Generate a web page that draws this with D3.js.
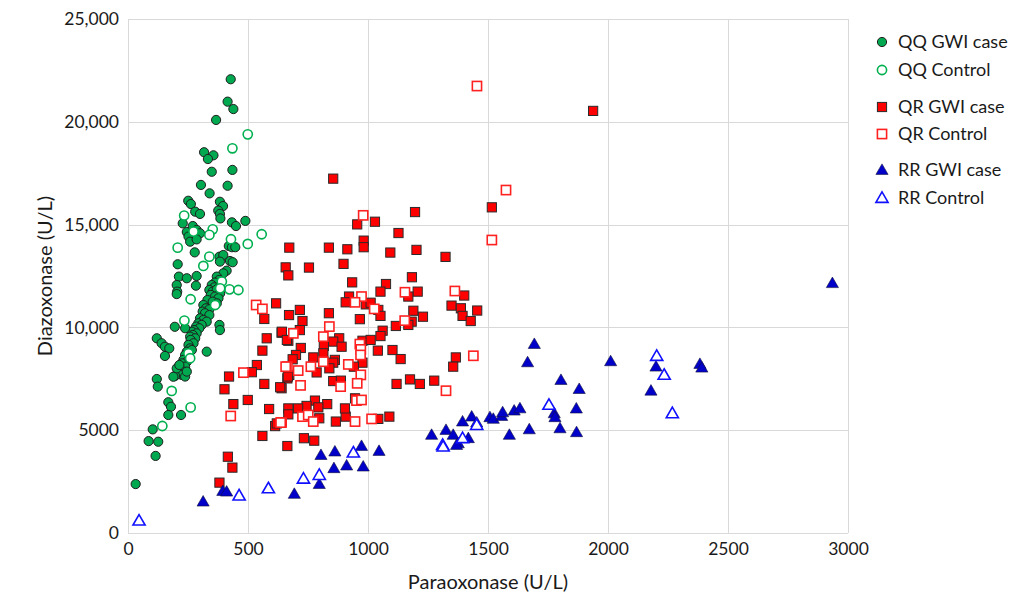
<!DOCTYPE html>
<html>
<head>
<meta charset="utf-8">
<script src="https://cdn.jsdelivr.net/npm/d3@7"></script>
<style>
body { margin: 0; background: #fff; }
text { font-family: Lato, "Open Sans", sans-serif; fill: #1a1a1a; }
</style>
</head>
<body>
<script>

// values: [paraoxonase, diazoxonase]
var qqCase = [
  [428,22070],[415,20980],[439,20620],[367,20090],[317,18520],[356,18370],[333,18190],[349,17570],[435,17660],
  [304,16930],[415,16890],[340,16520],[251,16160],[262,16000],[383,16110],[396,15900],[280,15630],[300,15520],
  [376,15680],[383,15520],[385,15300],[433,15110],[450,14930],[489,15180],[228,15060],[245,14640],[270,14930],
  [286,14740],[300,14580],[252,14420],[259,14170],[286,14280],
  [420,13960],[433,13900],[447,13900],[278,13650],[207,13070],[381,13440],[397,13520],[383,13200],[425,13230],
  [436,13170],[411,12760],[397,12630],[212,12470],[245,12390],[286,12500],[203,12060],[205,11740],[203,11620],[283,12030],
  [370,12470],[380,12310],[363,12180],[349,12060],[360,11950],[339,11820],[353,11740],[370,11850],[384,11660],
  [345,11580],[363,11500],[377,11420],[331,11330],[353,11250],[370,11170],[314,11090],[325,10930],[339,10880],
  [311,10770],[321,10690],[339,10600],[300,10440],[314,10360],[328,10280],[293,10200],[307,10120],[284,10040],
  [297,9960],[275,9870],[266,9790],[286,9710],[270,9630],[259,9550],[280,9470],[261,9390],[273,9230],[252,9150],
  [259,8980],[245,8820],[266,8900],[238,8660],[252,8580],[231,8420],[245,8330],[224,8250],[238,8090],[217,7930],
  [231,7850],[210,7770],[224,7690],[238,7610],[196,7640],[203,8010],[214,8170],
  [195,10030],[238,9960],[381,10120],[383,9870],[120,9470],[140,9230],[154,9060],[172,8980],[154,8610],[328,8820],
  [120,7490],[124,7120],[168,6360],[179,6140],[189,7600],[245,7850],
  [168,5740],[221,5740],[103,5040],[86,4470],[126,4440],[115,3750],[32,2380]
];
var qqControl = [
  [499,19390],[435,18710],[234,15440],[353,14770],[339,14500],[557,14530],[429,14290],[273,14660],[499,14060],
  [207,13880],[339,13440],[314,12990],[423,11850],[460,11820],[261,11370],[235,10330],[182,6910],[261,6110],
  [363,11090],[252,8740],[259,8500],[391,12230],[384,11900],[143,5205]
];
var qrCase = [
  [855,17235],[1196,15610],[1029,15140],[955,15010],[1127,14590],[982,14220],[982,13900],[672,13880],[837,13880],
  [914,13800],[1093,13640],[1202,13770],[1323,13430],[657,12920],[668,12530],[754,12910],[898,13090],[934,12190],
  [1075,12110],[1183,12440],[1052,11740],[1207,11740],[1168,11500],[921,11500],[907,11220],[991,11120],[1011,11200],
  [1043,10850],[1052,10560],[1189,10810],[1229,10520],[1348,11060],[1387,10930],[1401,11550],[1394,10560],[1428,10310],
  [1455,10820],[716,10850],[671,10600],[727,10310],[837,10690],[966,10400],[1182,10280],[1116,10070],[1168,10120],
  [640,9740],[668,9350],[716,9870],[880,9470],[855,9310],[890,9060],[816,9100],[720,9000],[700,8660],[686,8450],
  [772,8540],[814,8740],[862,8420],[855,8285],[839,8010],[786,7810],[672,7685],[664,7520],[977,9350],[977,8285],
  [941,8090],[1011,9390],[1061,9840],[1052,9580],[1041,8870],[1102,8900],[1136,8460],[1366,8540],[1355,8090],
  [640,7040],[855,7390],[887,7410],[1119,7250],[1175,7470],[1216,7250],[1276,7410],[946,6550],[779,6440],[830,6270],
  [744,6180],[668,6060],[668,5770],[793,6110],[709,6060],[797,5580],[866,5420],[907,5660],[904,6060],[1043,5550],
  [1089,5660],[733,4610],[776,4490],[664,4230],[1516,15840],[1938,20530],
  [439,6270],[499,6470],[416,3710],[435,3180],[381,2450],[560,4720],[588,6030],[613,5200],[620,5330],
  [617,11170],[568,10410],[641,9790],[662,9390],[578,9470],[560,8870],[537,8170],[516,7820],[666,7610],[421,7610],
  [568,7250],[634,7090],[402,6990]
];
var qrControl = [
  [1454,21740],[980,15450],[973,11500],[946,11220],[1026,10900],[1154,11710],[1362,11770],[1153,10330],[839,10040],
  [689,9710],[814,9550],[966,9190],[970,8930],[969,8660],[970,7690],[955,7280],[886,7120],[918,8200],[814,8330],
  [762,8090],[709,7900],[664,8090],[719,7180],[952,6440],[973,6470],[727,5660],[751,5740],[772,5420],[946,5420],
  [1015,5550],[640,5380],[1439,8620],[1325,6920],[1575,16680],[1516,14250],[428,5690],[636,5370],[534,11090],
  [560,10900],[481,7800],[657,8090]
];
var rrCase = [
  [313,1525],[395,2040],[411,2010],[693,1900],[797,2380],[804,3790],[862,3960],[858,3150],[911,3280],[973,4230],
  [980,3230],[1046,3990],[1265,4770],[1325,5010],[1355,4770],[1376,4360],[1369,4280],[1418,4610],[1394,5420],
  [1432,5660],[1453,5370],[1693,9190],[1665,8300],[1804,7440],[1880,7000],[1868,6050],[1776,5820],[1779,5630],
  [1800,5090],[1869,4900],[1672,5040],[1589,4770],[1508,5630],[1522,5550],[1557,5690],[1561,5870],[1609,5950],
  [1633,6060],[2011,8350],[2200,8090],[2179,6920],[2383,8220],[2391,8040],[2935,12150]
];
var rrControl = [
  [46,600],[463,1820],[585,2170],[731,2640],[797,2820],[939,3910],[1311,4280],[1313,4200],[1394,4610],[1453,5250],
  [1754,6230],[2203,8610],[2234,7690],[2268,5820]
];

var xTicks = [0, 500, 1000, 1500, 2000, 2500, 3000];
var yTicks = [0, 5000, 10000, 15000, 20000, 25000];

var margin = {top: 19, right: 161, bottom: 63, left: 128};
var width = 1009 - margin.left - margin.right;
var height = 596 - margin.top - margin.bottom;

var svg = d3.select("body").append("svg")
    .attr("width", 1009)
    .attr("height", 596);

var g = svg.append("g")
    .attr("transform", "translate(" + margin.left + "," + margin.top + ")");

var x = d3.scaleLinear().domain([0, 3000]).range([0, width]);
var y = d3.scaleLinear().domain([0, 25000]).range([height, 0]);

// grid
g.append("g").selectAll("line").data(xTicks).enter().append("line")
    .attr("x1", d => Math.round(x(d)) + 0.5).attr("x2", d => Math.round(x(d)) + 0.5)
    .attr("y1", 0).attr("y2", height)
    .attr("stroke", "#d9d9d9");
g.append("g").selectAll("line").data(yTicks).enter().append("line")
    .attr("x1", 0).attr("x2", width)
    .attr("y1", d => Math.round(y(d)) + 0.5).attr("y2", d => Math.round(y(d)) + 0.5)
    .attr("stroke", "#d9d9d9");

var fmtY = d => d >= 10000 ? d3.format(",")(d) : String(d);

var xAxis = g.append("g")
    .attr("transform", "translate(0," + height + ")")
    .call(d3.axisBottom(x).tickValues(xTicks).tickSize(0).tickPadding(10).tickFormat(d3.format("d")));
var yAxis = g.append("g")
    .call(d3.axisLeft(y).tickValues(yTicks).tickSize(0).tickPadding(9).tickFormat(fmtY));
[xAxis, yAxis].forEach(a => {
    a.select(".domain").remove();
    a.selectAll("text").attr("font-size", "17.5px").attr("font-family", "Lato, sans-serif").attr("fill", "#1a1a1a");
});

svg.append("text")
    .attr("transform", "rotate(-90)")
    .attr("x", -276)
    .attr("y", 52)
    .attr("text-anchor", "middle")
    .attr("font-size", "20px")
    .text("Diazoxonase (U/L)");

svg.append("text")
    .attr("x", 488)
    .attr("y", 589)
    .attr("text-anchor", "middle")
    .attr("font-size", "20px")
    .text("Paraoxonase (U/L)");

var green = "#00a84f", red = "#ff0000", blue = "#0000c8";
var tri = d3.symbol().type(d3.symbolTriangle).size(64);

var series = [
    {name: "QQ GWI case", data: qqCase, shape: "circle", fill: green, stroke: "#1e1e1e"},
    {name: "QQ Control", data: qqControl, shape: "circle", fill: "#fff", stroke: "#00b050"},
    {name: "QR GWI case", data: qrCase, shape: "square", fill: red, stroke: "#2a2a2a"},
    {name: "QR Control", data: qrControl, shape: "square", fill: "#fff", stroke: "#ff2020"},
    {name: "RR GWI case", data: rrCase, shape: "triangle", fill: blue, stroke: "#101040"},
    {name: "RR Control", data: rrControl, shape: "triangle", fill: "#fff", stroke: "#1010ff"}
];

function drawMarker(sel, s) {
    var sw = s.fill === "#fff" ? 1.6 : 1;
    if (s.shape === "circle") {
        sel.append("circle").attr("r", 4.6)
            .attr("fill", s.fill).attr("stroke", s.stroke).attr("stroke-width", sw);
    } else if (s.shape === "square") {
        sel.append("rect").attr("x", -4.6).attr("y", -4.6).attr("width", 9.2).attr("height", 9.2)
            .attr("fill", s.fill).attr("stroke", s.stroke).attr("stroke-width", sw);
    } else {
        sel.append("path").attr("d", tri).attr("transform", "translate(0,0.9)")
            .attr("fill", s.fill).attr("stroke", s.stroke).attr("stroke-width", s.fill === "#fff" ? 1.6 : 0.6);
    }
}

series.forEach(s => {
    g.append("g").selectAll("g").data(s.data).enter().append("g")
        .attr("transform", d => "translate(" + x(d[0]) + "," + y(d[1]) + ")")
        .each(function() { drawMarker(d3.select(this), s); });
});

// legend
var legendY = [42, 70, 107, 134, 170, 198];
series.forEach((s, i) => {
    var row = svg.append("g").attr("transform", "translate(882," + legendY[i] + ")");
    drawMarker(row, s);
    row.append("text")
        .attr("x", 16)
        .attr("y", 0)
        .attr("dy", "0.35em")
        .attr("font-size", "18px")
        .text(s.name);
});

</script>
</body>
</html>
